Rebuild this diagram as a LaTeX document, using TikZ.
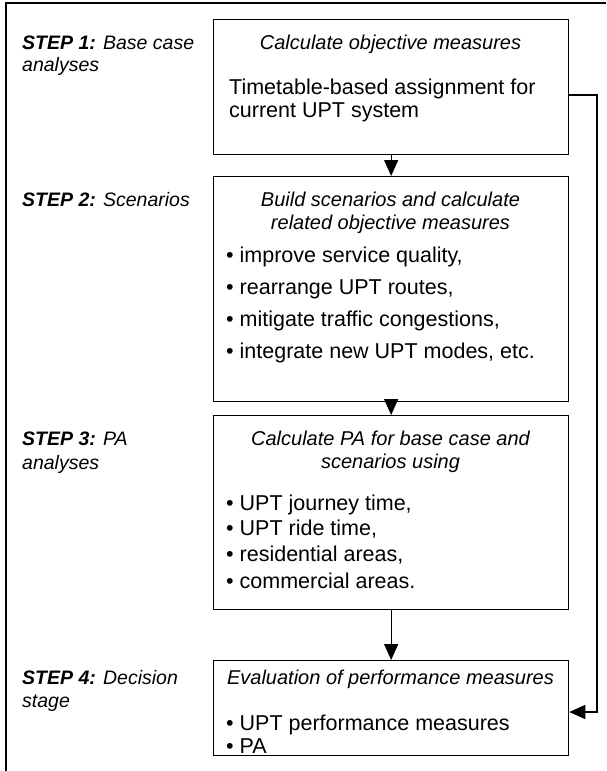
\documentclass[tikz,border=0pt]{standalone}
\usepackage{fontspec}
\setmainfont{Liberation Sans}
\usetikzlibrary{arrows.meta}
\begin{document}
\begin{tikzpicture}[x=1pt,y=-1pt,
  box/.style={draw, line width=1.3pt, inner sep=0pt, anchor=north west, minimum width=355pt},
  txt/.style={anchor=base west, inner sep=0pt, font=\fontsize{21.5}{24}\selectfont},
  ttl/.style={anchor=base, inner sep=0pt, font=\fontsize{20}{23}\selectfont\itshape},
  lbl/.style={anchor=base west, inner sep=0pt, font=\fontsize{19.5}{22}\selectfont\itshape},
  arr/.style={line width=1.3pt, -{Triangle[length=16pt,width=14pt]}}]
\useasboundingbox (0,0) rectangle (606,771);
\draw[line width=1.5pt] (6,771) -- (6,3) -- (606,3);
% boxes
\node[box, minimum height=135pt] (b1) at (213,19) {};
\node[box, minimum height=225pt] (b2) at (213,176) {};
\node[box, minimum height=194pt] (b3) at (213,415) {};
\node[box, minimum height=95pt] (b4) at (213,660) {};
% step labels
\node[lbl] (s1a) at (22,49) {\textbf{STEP 1:} Base case};
\node[lbl] (s1b) at (22,71) {analyses};
\node[lbl] (s2a) at (22,206) {\textbf{STEP 2:} Scenarios};
\node[lbl] (s3a) at (22,445) {\textbf{STEP 3:} PA};
\node[lbl] (s3b) at (22,469) {analyses};
\node[lbl] (s4a) at (22,684) {\textbf{STEP 4:} Decision};
\node[lbl] (s4b) at (22,707) {stage};
% box 1
\node[ttl] (t1) at (390.5,49) {Calculate objective measures};
\node[txt] (t1a) at (229,94) {Timetable-based assignment for};
\node[txt] (t1b) at (229,117) {current UPT system};
% box 2
\node[ttl] (t2a) at (390.5,206) {Build scenarios and calculate};
\node[ttl] (t2b) at (390.5,229) {related objective measures};
\node[txt] (i21) at (226,262) {\textbullet\ improve service quality,};
\node[txt] (i22) at (226,294) {\textbullet\ rearrange UPT routes,};
\node[txt] (i23) at (226,326) {\textbullet\ mitigate traffic congestions,};
\node[txt] (i24) at (226,358) {\textbullet\ integrate new UPT modes, etc.};
% box 3
\node[ttl] (t3a) at (390.5,445) {Calculate PA for base case and};
\node[ttl] (t3b) at (390.5,468) {scenarios using};
\node[txt] (i31) at (226,510) {\textbullet\ UPT journey time,};
\node[txt] (i32) at (226,535) {\textbullet\ UPT ride time,};
\node[txt] (i33) at (226,561) {\textbullet\ residential areas,};
\node[txt] (i34) at (226,588) {\textbullet\ commercial areas.};
% box 4
\node[ttl] (t4) at (390.5,684) {Evaluation of performance measures};
\node[txt] (i41) at (226,730) {\textbullet\ UPT performance measures};
\node[txt] (i42) at (226,753) {\textbullet\ PA};
% connectors
\draw[arr] (b1.south) -- (b2.north);
\draw[arr] (b2.south) -- (b3.north);
\draw[arr] (b3.south) -- (b4.north);
\coordinate (r1) at (597,95);
\coordinate (r2) at (597,712);
\draw[arr] (b1.east |- r1) -- (r1) -- (r2) -- (b4.east |- r2);
\end{tikzpicture}
\end{document}
